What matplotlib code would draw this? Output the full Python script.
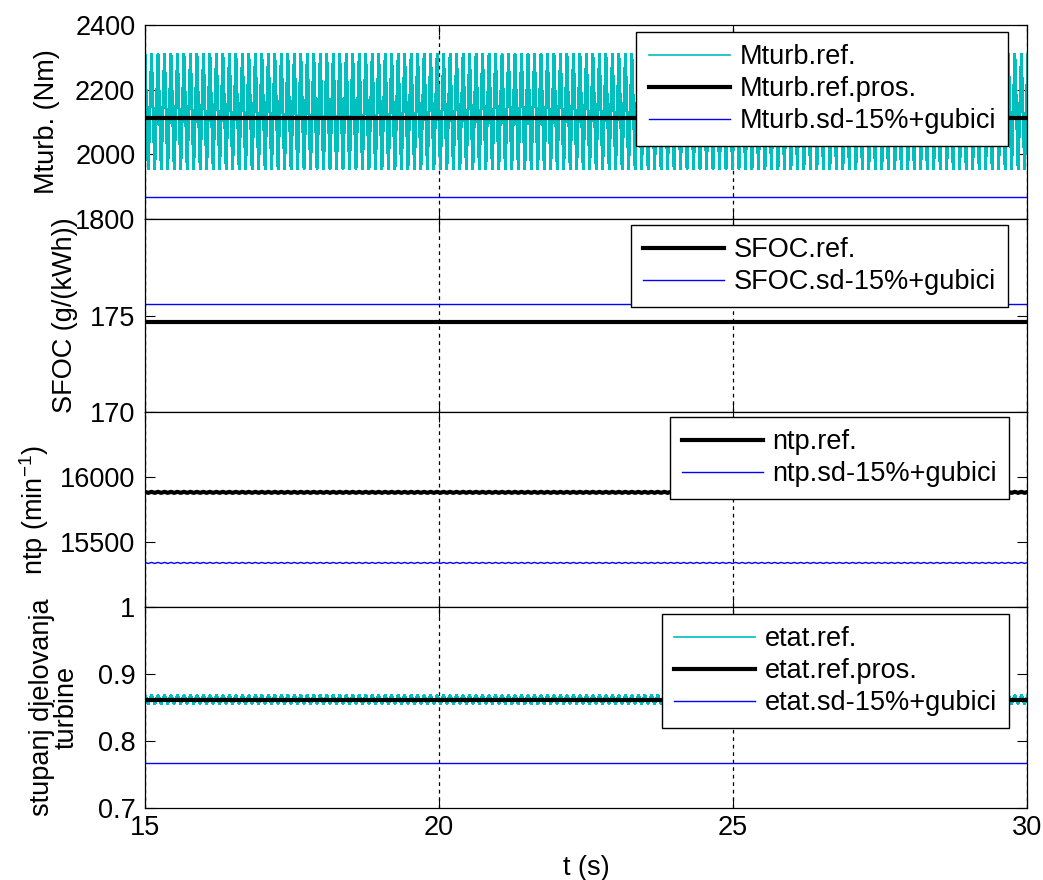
import numpy as np
import matplotlib
matplotlib.use("Agg")
import matplotlib.pyplot as plt

plt.rcParams['font.family'] = ['Liberation Sans', 'DejaVu Sans']
plt.rcParams['font.size'] = 19.5
plt.rcParams['mathtext.default'] = 'regular'

# time span and sampling step of the pulsating signals (s)
t_start = 15.0
t_end = 30.0
step = 0.0552

# repeating sample pattern of each pulsating signal
mturb_ref_cycle = [2310, 1955]
etat_ref_cycle = [0.868, 0.856]
ntp_ref_cycle = [15886, 15878]
ntp_sd_cycle = [15343, 15335]

# steady levels
mturb_ref_pros = 2112
mturb_sd = 1869
sfoc_ref = 174.64
sfoc_sd = 175.58
etat_ref_pros = 0.861
etat_sd = 0.767

x_ticks = [15, 20, 25, 30]

cyan = '#00bfbf'
blue = '#0000ff'

n = int(round((t_end - t_start) / step)) + 1
t = t_start + np.arange(n) * step
mturb_ref = np.resize(mturb_ref_cycle, n)
etat_ref = np.resize(etat_ref_cycle, n)
ntp_ref = np.resize(ntp_ref_cycle, n)
ntp_sd = np.resize(ntp_sd_cycle, n)
ones = np.ones(n)

fig = plt.figure(figsize=(10.43, 8.8), dpi=100)
left, width = 145 / 1043, 882 / 1043
pos = [(25, 219), (219, 412), (412, 607), (607, 808)]
axes = []
for top, bot in pos:
    ax = fig.add_axes([left, 1 - bot / 880, width, (bot - top) / 880])
    axes.append(ax)

leg_kw = dict(loc='upper right', borderaxespad=0, fancybox=False, framealpha=1,
              edgecolor='black', handlelength=3.0, handletextpad=0.35,
              labelspacing=0.22, borderpad=0.45, fontsize=19.5)

# Mturb
ax = axes[0]
ax.plot(t, mturb_ref, color=cyan, lw=1.44, antialiased=False, label='Mturb.ref.')
ax.plot(t, mturb_ref_pros * ones, color='black', lw=3, label='Mturb.ref.pros.')
ax.plot(t, mturb_sd * ones, color=blue, lw=1, label='Mturb.sd-15%+gubici')
ax.set_ylim(1800, 2400)
ax.set_yticks([1800, 2000, 2200, 2400])
ax.set_ylabel('Mturb. (Nm)')
ax.yaxis.set_label_coords(-0.096, 0.5)
lg = ax.legend(bbox_to_anchor=(0.9785, 0.964), **leg_kw)
lg.get_frame().set_linewidth(1)
lg.get_lines()[0].set_linewidth(1.2)

# SFOC
ax = axes[1]
ax.plot(t, sfoc_ref * ones, color='black', lw=3, label='SFOC.ref.')
ax.plot(t, sfoc_sd * ones, color=blue, lw=1, label='SFOC.sd-15%+gubici')
ax.set_ylim(170, 180)
ax.set_yticks([170, 175])
ax.set_ylabel('SFOC (g/(kWh))')
ax.yaxis.set_label_coords(-0.076, 0.5)
ax.legend(bbox_to_anchor=(0.9785, 0.969), **leg_kw).get_frame().set_linewidth(1)

# ntp
ax = axes[2]
ax.plot(t, ntp_ref, color='black', lw=3, label='ntp.ref.')
ax.plot(t, ntp_sd, color=blue, lw=1, label='ntp.sd-15%+gubici')
ax.set_ylim(15000, 16500)
ax.set_yticks([15500, 16000])
ax.set_ylabel('ntp (min$^{-1}$)')
ax.yaxis.set_label_coords(-0.107, 0.5)
ax.legend(bbox_to_anchor=(0.98, 0.974), **leg_kw).get_frame().set_linewidth(1)

# etat
ax = axes[3]
ax.plot(t, etat_ref, color=cyan, lw=1.44, antialiased=False, label='etat.ref.')
ax.plot(t, etat_ref_pros * ones, color='black', lw=3, label='etat.ref.pros.')
ax.plot(t, etat_sd * ones, color=blue, lw=1, label='etat.sd-15%+gubici')
ax.set_ylim(0.7, 1.0)
ax.set_yticks([0.7, 0.8, 0.9, 1.0])
ax.set_yticklabels(['0.7', '0.8', '0.9', '1'])
ax.set_ylabel('stupanj djelovanja\nturbine', linespacing=0.95)
ax.yaxis.set_label_coords(-0.074, 0.5)
ax.set_xlabel('t (s)', labelpad=10)
lg = ax.legend(bbox_to_anchor=(0.98, 0.965), **leg_kw)
lg.get_frame().set_linewidth(1)
lg.get_lines()[0].set_linewidth(1.2)

for i, ax in enumerate(axes):
    ax.set_xlim(t_start, t_end)
    ax.set_xticks(x_ticks)
    ax.tick_params(direction='in', length=7, top=True, right=True, width=0.8)
    ax.tick_params(axis='y', pad=7)
    ax.tick_params(axis='x', pad=5)
    ax.grid(True, axis='x', color='black', linestyle=(0, (3, 3)), linewidth=0.9)
    for s in ax.spines.values():
        s.set_linewidth(0.9)
    if i < 3:
        ax.set_xticklabels([])

fig.savefig('out.png', dpi=100)
